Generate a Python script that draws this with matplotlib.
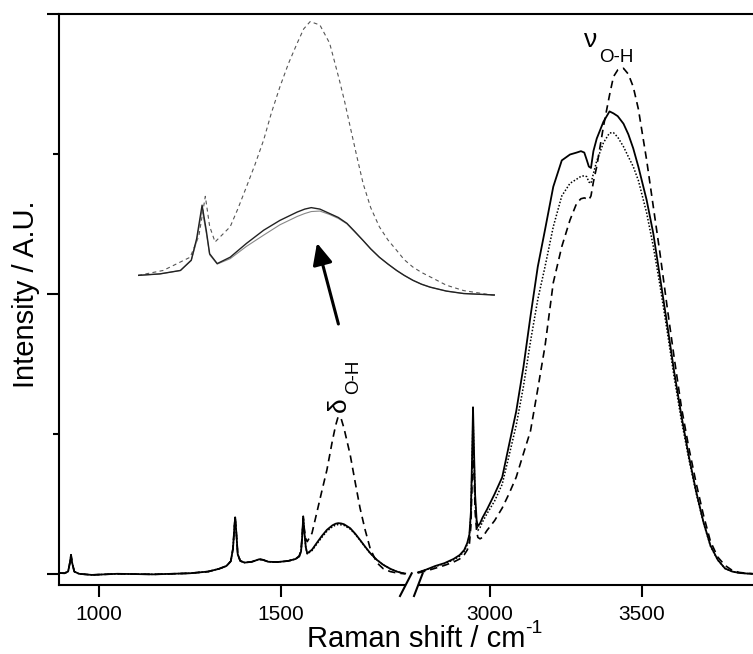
import numpy as np
import matplotlib
matplotlib.use("Agg")
import matplotlib.pyplot as plt
from matplotlib.ticker import NullLocator
from matplotlib.lines import Line2D
from matplotlib.patches import Rectangle

plt.rcParams['font.family'] = ['Liberation Sans', 'DejaVu Sans']

# ---------------- data ----------------
LEFT_WN = [890, 905, 915, 920, 923, 926, 932, 945, 980, 1050,
           1150, 1250, 1300, 1330, 1350, 1362, 1368, 1372, 1374, 1377,
           1381, 1388, 1400, 1420, 1440, 1450, 1465, 1490, 1520, 1540,
           1550, 1555, 1558, 1561, 1564, 1568, 1572, 1585, 1598, 1612,
           1626, 1641, 1650, 1657, 1665, 1673, 1690, 1704, 1717, 1731,
           1745, 1763, 1781, 1800, 1818, 1832, 1841]
LEFT_SOLID = [0.3, 0.2, 0.8, 4.0, 6.8, 4.0, 0.8, 0.0, -0.4, 0.0,
              -0.2, 0.2, 0.8, 1.8, 2.8, 4.5, 9.0, 17.0, 20.2, 15.0,
              7.0, 4.6, 4.0, 4.3, 5.2, 5.0, 4.3, 4.2, 4.6, 5.3,
              6.2, 8.0, 13.0, 20.5, 15.0, 9.5, 7.3, 8.6, 11.0, 13.5,
              15.7, 17.3, 17.9, 18.1, 18.0, 17.7, 16.3, 14.3, 12.1, 9.7,
              7.4, 5.0, 3.2, 1.8, 0.8, 0.3, 0.1]
LEFT_DOTTED = [0.3, 0.2, 0.8, 4.0, 6.8, 4.0, 0.8, 0.0, -0.4, 0.0,
               -0.2, 0.2, 0.8, 1.8, 2.8, 4.5, 9.0, 17.0, 20.2, 15.0,
               7.0, 4.6, 4.0, 4.3, 5.2, 5.0, 4.3, 4.2, 4.6, 5.3,
               6.2, 8.0, 13.0, 20.5, 15.0, 9.3, 7.1, 8.3, 10.6, 13.0,
               15.2, 16.8, 17.4, 17.6, 17.5, 17.3, 16.0, 14.1, 12.0, 9.6,
               7.3, 5.0, 3.2, 1.8, 0.8, 0.3, 0.1]
LEFT_DASHED = [0.3, 0.2, 0.8, 4.0, 6.8, 4.0, 0.8, 0.0, -0.4, 0.0,
               -0.2, 0.2, 0.8, 1.8, 2.8, 4.5, 9.0, 17.0, 20.2, 15.0,
               7.0, 4.6, 4.0, 4.3, 5.2, 5.0, 4.3, 4.2, 4.6, 5.3,
               6.4, 8.5, 13.5, 20.0, 16.0, 12.5, 11.5, 14.5, 21.7, 29.5,
               37.1, 47.5, 53.0, 56.2, 55.5, 52.0, 42.5, 32.5, 23.5, 15.7,
               9.0, 4.0, 1.8, 0.8, 0.3, 0.1, 0.0]

RIGHT_WN = [2763, 2790, 2820, 2850, 2880, 2900, 2915, 2925, 2932, 2937,
            2941, 2944, 2947, 2951, 2956, 2960, 2967, 2975, 2990, 3015,
            3040, 3062, 3086, 3110, 3133, 3157, 3181, 3208, 3236, 3263,
            3285, 3299, 3310, 3318, 3325, 3332, 3340, 3351, 3373, 3393,
            3406, 3420, 3439, 3455, 3471, 3488, 3515, 3537, 3559, 3583,
            3606, 3630, 3654, 3678, 3702, 3725, 3749, 3773, 3797, 3820,
            3845, 3865]
RIGHT_SOLID = [0.5, 1.5, 2.8, 3.8, 5.3, 6.7, 8.5, 11.0, 14.0, 22.0,
               42.0, 59.5, 45.0, 28.0, 19.0, 17.0, 18.0, 20.0, 23.0, 28.5,
               34.5, 45.8, 58.0, 74.0, 92.0, 109.7, 123.0, 138.3, 147.7, 149.8,
               150.5, 151.0, 150.5, 147.9, 145.5, 145.0, 151.0, 155.5, 161.5, 165.2,
               164.5, 163.5, 160.8, 157.0, 152.0, 145.4, 133.6, 121.6, 106.0, 88.9,
               72.0, 56.2, 42.0, 29.4, 18.5, 10.1, 5.0, 1.9, 0.8, 0.3,
               0.1, 0.0]
RIGHT_DOTTED = [0.5, 1.5, 2.6, 3.6, 5.0, 6.3, 8.0, 10.5, 13.5, 21.0,
                40.0, 57.0, 43.0, 26.0, 17.5, 15.5, 16.5, 18.5, 21.5, 26.0,
                32.0, 42.0, 53.0, 67.0, 83.0, 98.0, 109.8, 124.0, 135.0, 139.5,
                141.0, 142.0, 142.2, 141.9, 140.0, 139.5, 143.0, 147.5, 154.0, 157.5,
                157.6, 156.0, 152.6, 149.0, 145.5, 140.5, 129.0, 117.0, 103.0, 86.5,
                70.0, 54.5, 41.0, 28.8, 18.2, 9.9, 4.9, 1.9, 0.8, 0.3,
                0.1, 0.0]
RIGHT_DASHED = [0.3, 1.0, 2.0, 3.0, 4.2, 5.3, 6.8, 8.5, 10.5, 17.0,
                33.0, 48.0, 37.0, 22.0, 15.0, 13.0, 12.5, 13.0, 15.5, 19.0,
                23.5, 28.5, 34.5, 43.0, 51.0, 66.0, 81.5, 104.0, 116.9, 126.4,
                132.4, 134.0, 134.3, 134.0, 133.6, 135.0, 140.0, 145.5, 159.8, 171.0,
                177.6, 180.0, 180.6, 178.5, 174.0, 166.0, 147.9, 131.2, 114.5, 95.0,
                77.0, 59.2, 45.0, 32.4, 21.0, 11.6, 6.0, 3.0, 1.2, 0.5,
                0.2, 0.0]

# enlarged view of the bending band (inset)
INSET_DASHED_WN = [1500, 1523, 1548, 1556, 1562, 1566, 1571, 1585, 1592, 1600,
                   1608, 1616, 1623, 1631, 1639, 1647, 1653, 1659, 1668, 1677,
                   1681, 1686, 1691, 1696, 1702, 1708, 1715, 1723, 1731, 1739,
                   1746, 1754, 1762, 1770, 1785, 1801, 1830]
INSET_DASHED = [4.0, 5.0, 7.7, 12.0, 20.1, 14.0, 10.8, 13.9, 17.5, 22.0,
                26.6, 31.6, 37.0, 42.4, 47.2, 51.3, 54.2, 55.7, 55.0, 51.3,
                48.0, 43.8, 39.3, 34.3, 28.4, 22.7, 17.8, 13.9, 11.2, 9.1,
                7.2, 5.7, 4.6, 3.7, 2.0, 0.9, -0.1]
INSET_SOLID_WN = [1500, 1520, 1539, 1549, 1554, 1559, 1563, 1566, 1573, 1585,
                  1600, 1616, 1631, 1647, 1654, 1660, 1668, 1677, 1685, 1693,
                  1700, 1708, 1715, 1723, 1731, 1739, 1746, 1754, 1762, 1770,
                  1785, 1801, 1830]
INSET_SOLID = [4.0, 4.3, 5.0, 7.1, 11.5, 18.3, 13.0, 8.4, 6.4, 7.7,
               10.5, 13.2, 15.2, 16.9, 17.5, 17.8, 17.5, 16.6, 15.8, 14.6,
               13.0, 11.1, 9.4, 7.7, 6.3, 5.0, 4.0, 3.0, 2.2, 1.6,
               0.8, 0.3, 0.0]
INSET_GRAY = [4.0, 4.3, 5.0, 7.0, 11.0, 17.5, 12.5, 8.2, 6.3, 7.4,
              9.9, 12.2, 14.3, 16.0, 16.6, 17.0, 17.1, 16.4, 15.6, 14.5,
              12.9, 11.1, 9.4, 7.7, 6.3, 5.0, 4.0, 3.0, 2.2, 1.6,
              0.8, 0.3, 0.0]

XTICKS = [1000, 1500, 3000, 3500]
XTICK_LABELS = ['1000', '1500', '3000', '3500']

# ---------------- layout ----------------
W, H = 753, 654
AX_L, AX_R, AX_T, AX_B = 59, 753, 14, 585
X_MIN, X_MAX = 890, 3865
BREAK_LO, BREAK_HI = 1854, 2737
SLOPE_L, SLOPE_R = 0.364, 0.304   # px per cm-1 on each side of the break


def fx(px):
    return px / W


def fy(py):
    return 1 - py / H


p_lo = (BREAK_LO - X_MIN) * SLOPE_L
p_hi = p_lo + 0.2
NODES_X = np.array([0.0, BREAK_LO, BREAK_HI, 10000.0])
NODES_P = np.array([(0 - X_MIN) * SLOPE_L, p_lo, p_hi,
                    p_hi + (10000 - BREAK_HI) * SLOPE_R])


def fwd(x):
    return np.interp(x, NODES_X, NODES_P)


def inv(p):
    return np.interp(p, NODES_P, NODES_X)


fig = plt.figure(figsize=(W / 100, H / 100), dpi=100)
ax = fig.add_axes([fx(AX_L), fy(AX_B), (AX_R - AX_L) / W, (AX_B - AX_T) / H])
ax.set_xscale('function', functions=(fwd, inv))
ax.set_xlim(X_MIN, X_MAX)
ax.set_ylim(-4, 200)

black = 'black'
ax.plot(LEFT_WN, LEFT_DASHED, color=black, lw=1.2, ls=(0, (4.5, 3)))
ax.plot(RIGHT_WN, RIGHT_DASHED, color=black, lw=1.2, ls=(0, (4.5, 3)))
ax.plot(LEFT_WN, LEFT_DOTTED, color=black, lw=1.1, ls=(0, (1, 1.2)))
ax.plot(RIGHT_WN, RIGHT_DOTTED, color=black, lw=1.1, ls=(0, (1, 1.2)))
ax.plot(LEFT_WN, LEFT_SOLID, color=black, lw=1.3)
ax.plot(RIGHT_WN, RIGHT_SOLID, color=black, lw=1.3)

ax.set_xticks(XTICKS)
ax.set_xticklabels(XTICK_LABELS)
ax.xaxis.set_minor_locator(NullLocator())
ax.set_yticks([0, 100, 200])
ax.set_yticks([50, 150], minor=True)
ax.set_yticklabels([])
ax.tick_params(which='major', direction='out', length=8.6, width=1.5,
               labelsize=15, pad=6)
ax.tick_params(which='minor', direction='out', length=4.3, width=1.5)
ax.tick_params(axis='y', labelleft=False)
for s in ['left', 'bottom', 'top']:
    ax.spines[s].set_linewidth(1.5)
ax.spines['right'].set_visible(False)

ax.set_xlabel('Raman shift / cm', fontsize=21, ha='left', va='baseline')
ax.xaxis.set_label_coords((307 - AX_L) / (AX_R - AX_L), (AX_B - 647) / (AX_B - AX_T))
fig.text(fx(525), fy(633), '-1', fontsize=14, ha='left', va='baseline')
ax.set_ylabel('Intensity / A.U.', fontsize=21, va='baseline')
ax.yaxis.set_label_coords((34 - AX_L) / (AX_R - AX_L), (AX_B - 294) / (AX_B - AX_T))

# axis break mark
fig.add_artist(Rectangle((fx(406), fy(588)), (418 - 406) / W, 6 / H,
                         transform=fig.transFigure, facecolor='white',
                         edgecolor='none', zorder=5))
for x0, x1 in [(400, 411.7), (414, 422.7)]:
    fig.add_artist(Line2D([fx(x0), fx(x1)], [fy(596), fy(573.3)],
                          transform=fig.transFigure, color=black, lw=1.5,
                          zorder=6))

# band labels
fig.text(fx(590.5), fy(47.3), 'ν', fontsize=19, ha='center', va='baseline')
fig.text(fx(599), fy(61.7), 'O-H', fontsize=13.5, ha='left', va='baseline')
fig.text(fx(345.6), fy(404.5), 'δ', fontsize=19, rotation=90,
         rotation_mode='anchor', ha='center', va='baseline')
fig.text(fx(358), fy(394), 'O-H', fontsize=13.5, rotation=90,
         rotation_mode='anchor', ha='left', va='baseline')

# arrow to inset
ax.annotate('', xy=(fx(317), fy(243)), xycoords='figure fraction',
            xytext=(fx(338.4), fy(324)), textcoords='figure fraction',
            arrowprops=dict(arrowstyle='-|>,head_length=1.3,head_width=0.6',
                            lw=2.2, color=black, shrinkA=0, shrinkB=0,
                            mutation_scale=10))

# inset (enlarged bending region)
axin = fig.add_axes([fx(138.3), fy(295.5), (495 - 138.3) / W, (295.5 - 20.1) / H])
axin.set_xlim(1500, 1830)
axin.set_ylim(-0.1, 56.0)
axin.axis('off')
axin.patch.set_visible(False)
axin.plot(INSET_DASHED_WN, INSET_DASHED, color='#555555', lw=0.8, ls=(0, (3.5, 3)))
axin.plot(INSET_SOLID_WN, INSET_GRAY, color='#888888', lw=0.8)
axin.plot(INSET_SOLID_WN, INSET_SOLID, color='#222222', lw=1.0)

fig.savefig('out.png', dpi=100)
